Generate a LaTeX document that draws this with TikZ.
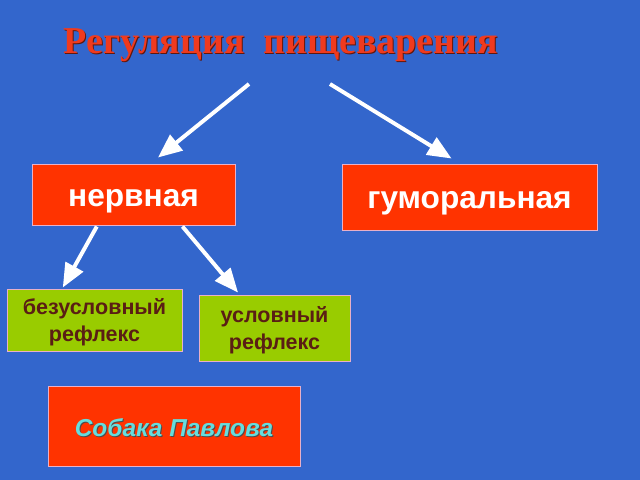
\documentclass[tikz,border=0pt]{standalone}
\usepackage{fontspec}
\setmainfont{Liberation Serif}
\setsansfont{Liberation Sans}
\usetikzlibrary{arrows.meta,calc}

\definecolor{bgblue}{HTML}{3366CC}
\definecolor{boxred}{HTML}{FF3300}
\definecolor{boxgreen}{HTML}{99CC00}
\definecolor{boxline}{HTML}{E8B0C8}
\definecolor{titlered}{HTML}{F03A1E}
\definecolor{reflexbrown}{HTML}{5A1E14}
\definecolor{dogcyan}{HTML}{66DDDD}

\tikzset{
    % boxes
    red-box/.style={
        rectangle,
        fill=boxred,
        draw=boxline,
        line width=0.7pt,
        text=white,
        font=\sffamily\bfseries\fontsize{22.5}{24}\selectfont,
        text height=17pt,
        text depth=0pt,
        inner sep=0pt
    },
    green-box/.style={
        rectangle,
        fill=boxgreen,
        draw=boxline,
        line width=0.7pt,
        text=reflexbrown,
        align=center,
        font=\sffamily\bfseries\fontsize{15.3}{18.5}\selectfont,
        text depth=0pt,
        inner sep=0pt
    },
    % arrows
    white-arrow/.style={
        -{Triangle[length=17pt,width=14pt]},
        line width=2.8pt,
        color=white
    }
}

\begin{document}
\begin{tikzpicture}[x=0.025cm, y=-0.025cm]

        \fill [bgblue] (0, 0) rectangle (640, 480);
        \useasboundingbox (0, 0) rectangle (640, 480);

        % title
        \node [text=black!60!titlered, font=\rmfamily\bfseries\fontsize{27}{30}\selectfont] at (282, 46) {Регуляция\ \ пищеварения};
        \node [text=titlered, font=\rmfamily\bfseries\fontsize{27}{30}\selectfont] (title) at (281, 45) {Регуляция\ \ пищеварения};

        % draw nodes
        \node [red-box, minimum width=203*0.025cm, minimum height=61*0.025cm] (nerv) at (133.5, 194.5) {нервная};
        \node [red-box, minimum width=255*0.025cm, minimum height=66*0.025cm] (humor) at (469.5, 197) {гуморальная};
        \node [green-box, minimum width=175*0.025cm, minimum height=62*0.025cm] (uncond) at (94.5, 320) {безусловный\\рефлекс};
        \node [green-box, minimum width=151*0.025cm, minimum height=66*0.025cm] (cond) at (274.5, 328) {условный\\рефлекс};
        \node [red-box, minimum width=252*0.025cm, minimum height=80*0.025cm] (dog) at (174, 426) {};
        \node [text=black!70, font=\sffamily\bfseries\itshape\fontsize{17.4}{19}\selectfont] at (175, 429) {Собака Павлова};
        \node [text=dogcyan, font=\sffamily\bfseries\itshape\fontsize{17.4}{19}\selectfont] (dog-text) at (174, 428) {Собака Павлова};

        % arrow starts
        \coordinate (from-left) at (249, 84);
        \coordinate (from-right) at (330, 84);

        % draw edges
        \draw [white-arrow] (from-left) -- ($(nerv.north west)!0.62!(nerv.north east)+(0,-6)$);
        \draw [white-arrow] (from-right) -- ($(humor.north west)!0.43!(humor.north east)+(0,-5)$);
        \draw [white-arrow] ($(nerv.south west)!0.32!(nerv.south east)+(0,1)$) -- ($(uncond.north west)!0.32!(uncond.north east)+(0,-1)$);
        \draw [white-arrow] ($(nerv.south west)!0.74!(nerv.south east)+(0,1)$) -- ($(cond.north west)!0.26!(cond.north east)+(0,-2)$);

    \end{tikzpicture}
\end{document}
